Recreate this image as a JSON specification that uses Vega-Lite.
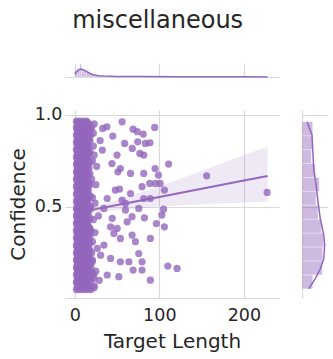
{
"$schema": "https://vega.github.io/schema/vega-lite/v6.json",
"padding": {"left": 8, "top": 9, "right": 2, "bottom": 2},
"title": {"text": "miscellaneous", "fontSize": 24, "font": "DejaVu Sans", "fontWeight": "normal", "color": "#262626", "anchor": "start", "dx": 64, "offset": 30},
"config": {
  "view": {"stroke": null},
  "axis": {"gridColor": "#d9d9d9", "domainColor": "#d9d9d9", "ticks": false, "labelFont": "DejaVu Sans", "titleFont": "DejaVu Sans", "labelFontSize": 17.5, "titleFontSize": 20, "labelColor": "#262626", "titleColor": "#262626", "titleFontWeight": "normal", "gridWidth": 1.2, "domainWidth": 1.2}
},
"datasets": {
  "pts": [
    {"len":2,"conf":0.05},{"len":6,"conf":0.05},{"len":10,"conf":0.05},{"len":14,"conf":0.05},{"len":19,"conf":0.05},
    {"len":4,"conf":0.07},{"len":8,"conf":0.07},{"len":12,"conf":0.07},{"len":17,"conf":0.07},{"len":23,"conf":0.07},
    {"len":2,"conf":0.09},{"len":6,"conf":0.09},{"len":10,"conf":0.09},{"len":14,"conf":0.09},
    {"len":4,"conf":0.11},{"len":8,"conf":0.11},{"len":12,"conf":0.11},{"len":17,"conf":0.11},{"len":22,"conf":0.11},
    {"len":2,"conf":0.13},{"len":6,"conf":0.13},{"len":10,"conf":0.13},{"len":14,"conf":0.13},{"len":20,"conf":0.13},
    {"len":4,"conf":0.15},{"len":8,"conf":0.15},{"len":12,"conf":0.15},{"len":17,"conf":0.15},{"len":25,"conf":0.15},
    {"len":2,"conf":0.17},{"len":6,"conf":0.17},{"len":10,"conf":0.17},{"len":14,"conf":0.17},{"len":19,"conf":0.17},
    {"len":4,"conf":0.19},{"len":8,"conf":0.19},{"len":12,"conf":0.19},{"len":17,"conf":0.19},
    {"len":2,"conf":0.21},{"len":6,"conf":0.21},{"len":10,"conf":0.21},{"len":14,"conf":0.21},{"len":21,"conf":0.21},
    {"len":4,"conf":0.23},{"len":8,"conf":0.23},{"len":12,"conf":0.23},{"len":17,"conf":0.23},
    {"len":2,"conf":0.25},{"len":6,"conf":0.25},{"len":10,"conf":0.25},{"len":14,"conf":0.25},{"len":20,"conf":0.25},
    {"len":4,"conf":0.27},{"len":8,"conf":0.27},{"len":12,"conf":0.27},{"len":17,"conf":0.27},
    {"len":2,"conf":0.29},{"len":6,"conf":0.29},{"len":10,"conf":0.29},{"len":14,"conf":0.29},
    {"len":4,"conf":0.31},{"len":8,"conf":0.31},{"len":12,"conf":0.31},{"len":17,"conf":0.31},{"len":21,"conf":0.31},
    {"len":2,"conf":0.33},{"len":6,"conf":0.33},{"len":10,"conf":0.33},{"len":14,"conf":0.33},
    {"len":4,"conf":0.35},{"len":8,"conf":0.35},{"len":12,"conf":0.35},{"len":17,"conf":0.35},
    {"len":2,"conf":0.37},{"len":6,"conf":0.37},{"len":10,"conf":0.37},{"len":14,"conf":0.37},{"len":19,"conf":0.37},
    {"len":4,"conf":0.39},{"len":8,"conf":0.39},{"len":12,"conf":0.39},{"len":17,"conf":0.39},
    {"len":2,"conf":0.41},{"len":6,"conf":0.41},{"len":10,"conf":0.41},{"len":14,"conf":0.41},
    {"len":4,"conf":0.43},{"len":8,"conf":0.43},{"len":12,"conf":0.43},{"len":16,"conf":0.43},{"len":22,"conf":0.43},
    {"len":2,"conf":0.45},{"len":6,"conf":0.45},{"len":10,"conf":0.45},{"len":14,"conf":0.45},
    {"len":4,"conf":0.47},{"len":8,"conf":0.47},{"len":12,"conf":0.47},{"len":16,"conf":0.47},
    {"len":2,"conf":0.49},{"len":6,"conf":0.49},{"len":10,"conf":0.49},{"len":14,"conf":0.49},{"len":19,"conf":0.49},
    {"len":4,"conf":0.51},{"len":8,"conf":0.51},{"len":12,"conf":0.51},{"len":16,"conf":0.51},
    {"len":2,"conf":0.53},{"len":6,"conf":0.53},{"len":10,"conf":0.53},{"len":14,"conf":0.53},
    {"len":4,"conf":0.55},{"len":8,"conf":0.55},{"len":12,"conf":0.55},{"len":16,"conf":0.55},{"len":21,"conf":0.55},
    {"len":2,"conf":0.57},{"len":6,"conf":0.57},{"len":10,"conf":0.57},{"len":14,"conf":0.57},
    {"len":4,"conf":0.59},{"len":8,"conf":0.59},{"len":12,"conf":0.59},{"len":16,"conf":0.59},
    {"len":2,"conf":0.61},{"len":6,"conf":0.61},{"len":10,"conf":0.61},{"len":14,"conf":0.61},
    {"len":4,"conf":0.63},{"len":8,"conf":0.63},{"len":12,"conf":0.63},{"len":17,"conf":0.63},
    {"len":2,"conf":0.65},{"len":6,"conf":0.65},{"len":10,"conf":0.65},{"len":14,"conf":0.65},{"len":20,"conf":0.65},
    {"len":4,"conf":0.67},{"len":8,"conf":0.67},{"len":12,"conf":0.67},{"len":16,"conf":0.67},
    {"len":2,"conf":0.69},{"len":6,"conf":0.69},{"len":10,"conf":0.69},{"len":14,"conf":0.69},
    {"len":4,"conf":0.71},{"len":8,"conf":0.71},{"len":12,"conf":0.71},{"len":17,"conf":0.71},
    {"len":2,"conf":0.73},{"len":6,"conf":0.73},{"len":10,"conf":0.73},{"len":14,"conf":0.73},
    {"len":4,"conf":0.75},{"len":8,"conf":0.75},{"len":12,"conf":0.75},{"len":16,"conf":0.75},{"len":21,"conf":0.75},
    {"len":2,"conf":0.77},{"len":6,"conf":0.77},{"len":10,"conf":0.77},{"len":14,"conf":0.77},
    {"len":4,"conf":0.79},{"len":8,"conf":0.79},{"len":12,"conf":0.79},{"len":17,"conf":0.79},
    {"len":2,"conf":0.81},{"len":6,"conf":0.81},{"len":10,"conf":0.81},{"len":14,"conf":0.81},
    {"len":4,"conf":0.83},{"len":8,"conf":0.83},{"len":12,"conf":0.83},{"len":16,"conf":0.83},{"len":22,"conf":0.83},
    {"len":2,"conf":0.85},{"len":6,"conf":0.85},{"len":10,"conf":0.85},{"len":14,"conf":0.85},
    {"len":4,"conf":0.87},{"len":8,"conf":0.87},{"len":12,"conf":0.87},{"len":17,"conf":0.87},
    {"len":2,"conf":0.89},{"len":6,"conf":0.89},{"len":10,"conf":0.89},{"len":14,"conf":0.89},{"len":19,"conf":0.89},
    {"len":4,"conf":0.91},{"len":8,"conf":0.91},{"len":12,"conf":0.91},{"len":16,"conf":0.91},
    {"len":2,"conf":0.93},{"len":6,"conf":0.93},{"len":10,"conf":0.93},{"len":14,"conf":0.93},{"len":20,"conf":0.93},
    {"len":4,"conf":0.95},{"len":8,"conf":0.95},{"len":12,"conf":0.95},{"len":17,"conf":0.95},{"len":23,"conf":0.95},
    {"len":2,"conf":0.965},{"len":6,"conf":0.965},{"len":10,"conf":0.965},{"len":14,"conf":0.965},
    {"len":3,"conf":0.06},{"len":7,"conf":0.06},{"len":11,"conf":0.06},{"len":15,"conf":0.06},{"len":18,"conf":0.06},
    {"len":3,"conf":0.08},{"len":7,"conf":0.08},{"len":11,"conf":0.08},{"len":15,"conf":0.08},
    {"len":3,"conf":0.1},{"len":7,"conf":0.1},{"len":11,"conf":0.1},{"len":15,"conf":0.1},{"len":19,"conf":0.1},
    {"len":3,"conf":0.12},{"len":7,"conf":0.12},{"len":11,"conf":0.12},{"len":15,"conf":0.12},
    {"len":3,"conf":0.14},{"len":7,"conf":0.14},{"len":11,"conf":0.14},{"len":15,"conf":0.14},{"len":21,"conf":0.14},
    {"len":3,"conf":0.16},{"len":7,"conf":0.16},{"len":11,"conf":0.16},{"len":15,"conf":0.16},
    {"len":3,"conf":0.18},{"len":7,"conf":0.18},{"len":11,"conf":0.18},{"len":15,"conf":0.18},{"len":18,"conf":0.18},
    {"len":3,"conf":0.2},{"len":7,"conf":0.2},{"len":11,"conf":0.2},{"len":15,"conf":0.2},
    {"len":3,"conf":0.22},{"len":7,"conf":0.22},{"len":11,"conf":0.22},{"len":15,"conf":0.22},{"len":18,"conf":0.22},
    {"len":3,"conf":0.24},{"len":7,"conf":0.24},{"len":11,"conf":0.24},{"len":15,"conf":0.24},
    {"len":3,"conf":0.26},{"len":7,"conf":0.26},{"len":11,"conf":0.26},{"len":15,"conf":0.26},{"len":18,"conf":0.26},
    {"len":3,"conf":0.28},{"len":7,"conf":0.28},{"len":11,"conf":0.28},{"len":15,"conf":0.28},
    {"len":3,"conf":0.3},{"len":7,"conf":0.3},{"len":11,"conf":0.3},{"len":15,"conf":0.3},{"len":18,"conf":0.3},
    {"len":3,"conf":0.32},{"len":7,"conf":0.32},{"len":11,"conf":0.32},{"len":15,"conf":0.32},
    {"len":3,"conf":0.34},{"len":7,"conf":0.34},{"len":11,"conf":0.34},{"len":15,"conf":0.34},{"len":18,"conf":0.34},
    {"len":3,"conf":0.36},{"len":7,"conf":0.36},{"len":11,"conf":0.36},{"len":15,"conf":0.36},
    {"len":3,"conf":0.38},{"len":7,"conf":0.38},{"len":11,"conf":0.38},{"len":15,"conf":0.38},{"len":18,"conf":0.38},
    {"len":3,"conf":0.4},{"len":7,"conf":0.4},{"len":11,"conf":0.4},{"len":15,"conf":0.4},
    {"len":3,"conf":0.42},{"len":7,"conf":0.42},{"len":11,"conf":0.42},{"len":15,"conf":0.42},
    {"len":3,"conf":0.44},{"len":7,"conf":0.44},{"len":11,"conf":0.44},{"len":15,"conf":0.44},{"len":18,"conf":0.44},
    {"len":3,"conf":0.46},{"len":7,"conf":0.46},{"len":11,"conf":0.46},{"len":15,"conf":0.46},
    {"len":3,"conf":0.48},{"len":7,"conf":0.48},{"len":11,"conf":0.48},{"len":15,"conf":0.48},
    {"len":3,"conf":0.5},{"len":7,"conf":0.5},{"len":11,"conf":0.5},{"len":15,"conf":0.5},{"len":18,"conf":0.5},
    {"len":3,"conf":0.52},{"len":7,"conf":0.52},{"len":11,"conf":0.52},{"len":15,"conf":0.52},
    {"len":3,"conf":0.54},{"len":7,"conf":0.54},{"len":11,"conf":0.54},{"len":15,"conf":0.54},
    {"len":3,"conf":0.56},{"len":7,"conf":0.56},{"len":11,"conf":0.56},{"len":15,"conf":0.56},{"len":18,"conf":0.56},
    {"len":3,"conf":0.58},{"len":7,"conf":0.58},{"len":11,"conf":0.58},{"len":15,"conf":0.58},
    {"len":3,"conf":0.6},{"len":7,"conf":0.6},{"len":11,"conf":0.6},{"len":15,"conf":0.6},
    {"len":3,"conf":0.62},{"len":7,"conf":0.62},{"len":11,"conf":0.62},{"len":15,"conf":0.62},{"len":18,"conf":0.62},
    {"len":3,"conf":0.64},{"len":7,"conf":0.64},{"len":11,"conf":0.64},{"len":15,"conf":0.64},
    {"len":3,"conf":0.66},{"len":7,"conf":0.66},{"len":11,"conf":0.66},{"len":15,"conf":0.66},
    {"len":3,"conf":0.68},{"len":7,"conf":0.68},{"len":11,"conf":0.68},{"len":15,"conf":0.68},{"len":18,"conf":0.68},
    {"len":3,"conf":0.7},{"len":7,"conf":0.7},{"len":11,"conf":0.7},{"len":15,"conf":0.7},
    {"len":3,"conf":0.72},{"len":7,"conf":0.72},{"len":11,"conf":0.72},{"len":15,"conf":0.72},
    {"len":3,"conf":0.74},{"len":7,"conf":0.74},{"len":11,"conf":0.74},{"len":15,"conf":0.74},{"len":18,"conf":0.74},
    {"len":3,"conf":0.76},{"len":7,"conf":0.76},{"len":11,"conf":0.76},{"len":15,"conf":0.76},
    {"len":3,"conf":0.78},{"len":7,"conf":0.78},{"len":11,"conf":0.78},{"len":15,"conf":0.78},
    {"len":3,"conf":0.8},{"len":7,"conf":0.8},{"len":11,"conf":0.8},{"len":15,"conf":0.8},{"len":18,"conf":0.8},
    {"len":3,"conf":0.82},{"len":7,"conf":0.82},{"len":11,"conf":0.82},{"len":15,"conf":0.82},
    {"len":3,"conf":0.84},{"len":7,"conf":0.84},{"len":11,"conf":0.84},{"len":15,"conf":0.84},
    {"len":3,"conf":0.86},{"len":7,"conf":0.86},{"len":11,"conf":0.86},{"len":15,"conf":0.86},{"len":18,"conf":0.86},
    {"len":3,"conf":0.88},{"len":7,"conf":0.88},{"len":11,"conf":0.88},{"len":15,"conf":0.88},
    {"len":3,"conf":0.9},{"len":7,"conf":0.9},{"len":11,"conf":0.9},{"len":15,"conf":0.9},
    {"len":3,"conf":0.92},{"len":7,"conf":0.92},{"len":11,"conf":0.92},{"len":15,"conf":0.92},{"len":18,"conf":0.92},
    {"len":3,"conf":0.94},{"len":7,"conf":0.94},{"len":11,"conf":0.94},{"len":15,"conf":0.94},
    {"len":3,"conf":0.958},{"len":7,"conf":0.958},{"len":11,"conf":0.958},{"len":15,"conf":0.958},
    {"len":56,"conf":0.962},{"len":69,"conf":0.922},{"len":74,"conf":0.908},{"len":81,"conf":0.895},{"len":94.5,"conf":0.931},
    {"len":45,"conf":0.884},{"len":38,"conf":0.935},{"len":33,"conf":0.926},{"len":59,"conf":0.844},{"len":74.5,"conf":0.853},
    {"len":83.5,"conf":0.844},{"len":89,"conf":0.848},{"len":68,"conf":0.817},{"len":77,"conf":0.79},{"len":81.6,"conf":0.781},
    {"len":50,"conf":0.781},{"len":32.6,"conf":0.808},{"len":23,"conf":0.781},{"len":44,"conf":0.735},{"len":54,"conf":0.708},
    {"len":66,"conf":0.681},{"len":81.6,"conf":0.681},{"len":95,"conf":0.708},{"len":99,"conf":0.672},{"len":111,"conf":0.732},
    {"len":51,"conf":0.69},{"len":48,"conf":0.591},{"len":53,"conf":0.596},{"len":66,"conf":0.572},{"len":79.6,"conf":0.609},
    {"len":88.6,"conf":0.627},{"len":95.3,"conf":0.627},{"len":101,"conf":0.627},{"len":106,"conf":0.591},{"len":89.4,"conf":0.545},
    {"len":81.6,"conf":0.545},{"len":56,"conf":0.536},{"len":60,"conf":0.518},{"len":38.4,"conf":0.545},{"len":34.5,"conf":0.491},
    {"len":75.7,"conf":0.491},{"len":60,"conf":0.482},{"len":67.8,"conf":0.446},{"len":82.4,"conf":0.44},{"len":105,"conf":0.487},
    {"len":103,"conf":0.455},{"len":44.3,"conf":0.437},{"len":42.4,"conf":0.391},{"len":50.2,"conf":0.382},{"len":62,"conf":0.418},
    {"len":67.8,"conf":0.346},{"len":71.8,"conf":0.31},{"len":54,"conf":0.328},{"len":46.3,"conf":0.355},{"len":89.4,"conf":0.328},
    {"len":96.5,"conf":0.409},{"len":106,"conf":0.391},{"len":75.7,"conf":0.246},{"len":64,"conf":0.201},{"len":79.6,"conf":0.201},
    {"len":79.6,"conf":0.156},{"len":69,"conf":0.156},{"len":54,"conf":0.201},{"len":42.4,"conf":0.219},{"len":30.6,"conf":0.237},
    {"len":34.5,"conf":0.292},{"len":26.7,"conf":0.274},{"len":38.4,"conf":0.129},{"len":52.2,"conf":0.12},{"len":89.4,"conf":0.101},
    {"len":110,"conf":0.178},{"len":121,"conf":0.165},{"len":156,"conf":0.668},{"len":227.5,"conf":0.578},{"len":22.7,"conf":0.129},
    {"len":20.8,"conf":0.201},{"len":25,"conf":0.62},{"len":28,"conf":0.45},{"len":24,"conf":0.36},{"len":30,"conf":0.86},
    {"len":22,"conf":0.9},{"len":26,"conf":0.72},{"len":24,"conf":0.52},{"len":29,"conf":0.1},{"len":23,"conf":0.06}
  ],
  "fit": [
    {"len":0,"fit":0.466,"lo":0.442,"hi":0.49},
    {"len":20,"fit":0.483,"lo":0.466,"hi":0.5},
    {"len":50,"fit":0.509,"lo":0.482,"hi":0.537},
    {"len":100,"fit":0.553,"lo":0.502,"hi":0.61},
    {"len":150,"fit":0.598,"lo":0.514,"hi":0.694},
    {"len":200,"fit":0.643,"lo":0.523,"hi":0.782},
    {"len":228,"fit":0.667,"lo":0.527,"hi":0.826}
  ],
  "xhist": [
    {"x0":0,"x1":3,"h":7},{"x0":3,"x1":6,"h":9},{"x0":6,"x1":8,"h":13},{"x0":8,"x1":11,"h":8},
    {"x0":11,"x1":14,"h":6},{"x0":14,"x1":18,"h":4},{"x0":18,"x1":24,"h":2.5},{"x0":24,"x1":32,"h":1.5},
    {"x0":32,"x1":45,"h":1},{"x0":45,"x1":70,"h":0.7},{"x0":70,"x1":100,"h":0.6},{"x0":100,"x1":130,"h":0.4},
    {"x0":130,"x1":160,"h":0.3},{"x0":160,"x1":200,"h":0.3},{"x0":200,"x1":230,"h":0.3}
  ],
  "xkde": [
    {"x":0,"h":3},{"x":3,"h":6},{"x":7,"h":8},{"x":10,"h":7.3},{"x":14,"h":5.5},{"x":18,"h":3.5},
    {"x":22,"h":2.2},{"x":28,"h":1.3},{"x":35,"h":0.9},{"x":50,"h":0.6},{"x":80,"h":0.4},{"x":120,"h":0.3},
    {"x":160,"h":0.2},{"x":200,"h":0.2},{"x":228,"h":0.1}
  ],
  "yhist": [
    {"y0":0.054,"y1":0.13,"n":10.7},{"y0":0.13,"y1":0.205,"n":20.3},{"y0":0.205,"y1":0.281,"n":20.7},
    {"y0":0.281,"y1":0.357,"n":21.7},{"y0":0.357,"y1":0.432,"n":19.3},{"y0":0.432,"y1":0.508,"n":16},
    {"y0":0.508,"y1":0.584,"n":14},{"y0":0.584,"y1":0.659,"n":17.3},{"y0":0.659,"y1":0.735,"n":13.3},
    {"y0":0.735,"y1":0.811,"n":9.3},{"y0":0.811,"y1":0.886,"n":10.7},{"y0":0.886,"y1":0.962,"n":10.7}
  ],
  "ykde": [
    {"y":0.054,"n":6.7},{"y":0.109,"n":13.3},{"y":0.163,"n":18.3},{"y":0.217,"n":21.7},{"y":0.293,"n":22.7},
    {"y":0.348,"n":21.7},{"y":0.435,"n":18.3},{"y":0.527,"n":16},{"y":0.62,"n":14},{"y":0.707,"n":11.7},
    {"y":0.8,"n":10.8},{"y":0.891,"n":10},{"y":0.962,"n":5}
  ]
},
"spacing": 25,
"vconcat": [
  {
    "width": 214, "height": 14,
    "layer": [
      {"data": {"name": "xhist"},
       "mark": {"type": "rect", "color": "#9467bd", "opacity": 0.45, "stroke": "white", "strokeWidth": 0.4},
       "encoding": {
         "x": {"field": "x0", "type": "quantitative", "scale": {"domain": [-11.5, 241.5], "nice": false, "zero": false},
               "axis": {"title": null, "labels": false, "values": [0, 100, 200], "grid": true}},
         "x2": {"field": "x1"},
         "y": {"field": "h", "type": "quantitative", "scale": {"domain": [0, 14], "nice": false}, "axis": null},
         "y2": {"datum": 0}
       }},
      {"data": {"name": "xkde"},
       "mark": {"type": "line", "color": "#9467bd", "strokeWidth": 1.5},
       "encoding": {
         "x": {"field": "x", "type": "quantitative"},
         "y": {"field": "h", "type": "quantitative"}
       }}
    ]
  },
  {
    "spacing": 22,
    "hconcat": [
      {
        "width": 214, "height": 188,
        "layer": [
          {"data": {"name": "pts"},
           "mark": {"type": "circle", "color": "#9467bd", "opacity": 0.8, "size": 52},
           "encoding": {
             "x": {"field": "len", "type": "quantitative", "scale": {"domain": [-11.5, 241.5], "nice": false, "zero": false},
                   "axis": {"title": "Target Length", "values": [0, 100, 200], "labelFlush": false, "labelPadding": 8, "titlePadding": 8}},
             "y": {"field": "conf", "type": "quantitative", "scale": {"domain": [0.004, 1.026], "nice": false, "zero": false},
                   "axis": {"title": "Confidence", "values": [0.5, 1.0], "format": ".1f", "labelPadding": 3, "titlePadding": 6, "domain": false}}
           }},
          {"data": {"name": "fit"},
           "mark": {"type": "area", "color": "#9467bd", "opacity": 0.15},
           "encoding": {
             "x": {"field": "len", "type": "quantitative"},
             "y": {"field": "lo", "type": "quantitative"},
             "y2": {"field": "hi"}
           }},
          {"data": {"name": "fit"},
           "mark": {"type": "line", "color": "#9467bd", "strokeWidth": 2},
           "encoding": {
             "x": {"field": "len", "type": "quantitative"},
             "y": {"field": "fit", "type": "quantitative"}
           }}
        ]
      },
      {
        "width": 26, "height": 188,
        "layer": [
          {"data": {"name": "yhist"},
           "mark": {"type": "rect", "color": "#9467bd", "opacity": 0.45, "stroke": "white", "strokeWidth": 0.4},
           "encoding": {
             "y": {"field": "y0", "type": "quantitative", "scale": {"domain": [0.004, 1.026], "nice": false, "zero": false},
                   "axis": {"title": null, "labels": false, "values": [0.5, 1.0], "grid": true}},
             "y2": {"field": "y1"},
             "x": {"field": "n", "type": "quantitative", "scale": {"domain": [0, 26], "nice": false}, "axis": null},
             "x2": {"datum": 0}
           }},
          {"data": {"name": "ykde"},
           "mark": {"type": "line", "color": "#9467bd", "strokeWidth": 1.5},
           "encoding": {
             "y": {"field": "y", "type": "quantitative"},
             "x": {"field": "n", "type": "quantitative"},
             "order": {"field": "y"}
           }}
        ]
      }
    ]
  }
]
}
